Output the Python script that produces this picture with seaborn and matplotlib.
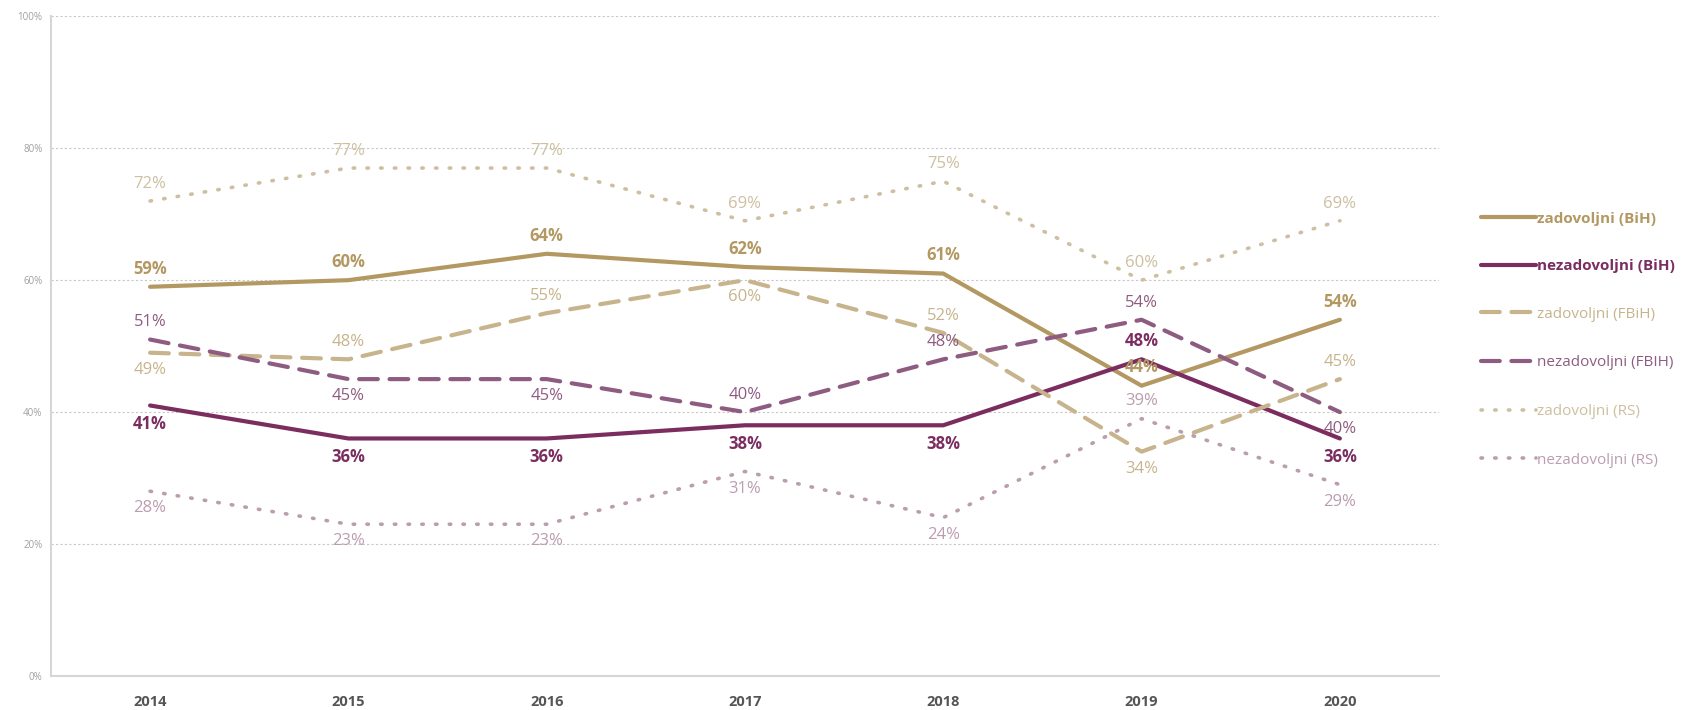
import matplotlib
matplotlib.use("Agg")
import matplotlib.pyplot as plt
import numpy as np
import pandas as pd
import seaborn as sns

years = [2014, 2015, 2016, 2017, 2018, 2019, 2020]

series_names = [
    "zadovoljni (BiH)",
    "nezadovoljni (BiH)",
    "zadovoljni (FBiH)",
    "nezadovoljni (FBIH)",
    "zadovoljni (RS)",
    "nezadovoljni (RS)",
]
zad_bih = [59, 60, 64, 62, 61, 44, 54]
nezad_bih = [41, 36, 36, 38, 38, 48, 36]
zad_fbih = [49, 48, 55, 60, 52, 34, 45]
nezad_fbih = [51, 45, 45, 40, 48, 54, 40]
zad_rs = [72, 77, 77, 69, 75, 60, 69]
nezad_rs = [28, 23, 23, 31, 24, 39, 29]

# label placement per point: 1 above, -1 below
pos_zad_bih = [1, 1, 1, 1, 1, 1, 1]
pos_nezad_bih = [-1, -1, -1, -1, -1, 1, -1]
pos_zad_fbih = [-1, 1, 1, -1, 1, -1, 1]
pos_nezad_fbih = [1, -1, -1, 1, 1, 1, -1]
pos_zad_rs = [1, 1, 1, 1, 1, 1, 1]
pos_nezad_rs = [-1, -1, -1, -1, -1, 1, -1]

values = [zad_bih, nezad_bih, zad_fbih, nezad_fbih, zad_rs, nezad_rs]
positions = [pos_zad_bih, pos_nezad_bih, pos_zad_fbih, pos_nezad_fbih, pos_zad_rs, pos_nezad_rs]
colors = ["#b39862", "#7b2d60", "#c7b48c", "#8f5c81", "#cdbf9f", "#bb9db0"]
styles = [dict(lw=3), dict(lw=3), dict(lw=3, dashes=(4.5, 2.8)), dict(lw=3, dashes=(4.5, 2.8)),
          dict(lw=2.6, dashes=(0.4, 3.4)), dict(lw=2.6, dashes=(0.4, 3.4))]
bold = [True, True, False, False, False, False]

sns.set_style("white")
plt.rcParams["font.family"] = ["Open Sans", "DejaVu Sans"]

fig = plt.figure(figsize=(16.87, 7.10), dpi=100)
ax = fig.add_axes([0.0302, 0.048, 0.8228, 0.929])

for name, vals, pos, color, st, b in zip(series_names, values, positions, colors, styles, bold):
    df = pd.DataFrame({"year": years, "value": vals})
    sns.lineplot(data=df, x="year", y="value", ax=ax, color=color, lw=st["lw"], label=name)
    l = ax.lines[-1]
    if "dashes" in st:
        l.set_dashes(st["dashes"])
        l.set_dash_capstyle("round")
    for x, v, p in zip(years, vals, pos):
        va = "bottom" if p > 0 else "top"
        ax.text(x, v + 1.4 * p, f"{v}%", ha="center", va=va,
                color=color, fontsize=12, fontweight="bold" if b else "normal")

ax.set_xlim(2013.5, 2020.5)
ax.set_ylim(0, 100)
ax.set_yticks(np.arange(0, 101, 20))
ax.set_yticklabels([f"{t}%" for t in range(0, 101, 20)], fontsize=7, color="#a0a0a0")
ax.set_xticks(years)
ax.set_xticklabels([str(y) for y in years], fontsize=10.5, fontweight="bold", color="#555555")
ax.set_xticks(np.arange(2014.5, 2020.5, 1), minor=True)
ax.tick_params(axis="x", which="major", length=0, pad=14)
ax.tick_params(axis="x", which="minor", length=4, color="#d0d0d0", direction="out")
ax.tick_params(axis="y", length=4, color="#d0d0d0", pad=2)
ax.grid(axis="y", color="#c8c8c8", linestyle=(0, (2, 2)), lw=0.8)
ax.set_axisbelow(True)
ax.set_xlabel("")
ax.set_ylabel("")
for s in ["top", "right"]:
    ax.spines[s].set_visible(False)
for s in ["left", "bottom"]:
    ax.spines[s].set_color("#d6d6d6")
    ax.spines[s].set_linewidth(1.5)

leg = ax.legend(loc="center left", bbox_to_anchor=(1.02, 0.51), frameon=False, fontsize=11,
                handlelength=3.6, handletextpad=0.1, labelspacing=2.2)
for text, color, b in zip(leg.get_texts(), colors, bold):
    text.set_color(color)
    if b:
        text.set_fontweight("bold")

fig.savefig("out.png", dpi=100)
